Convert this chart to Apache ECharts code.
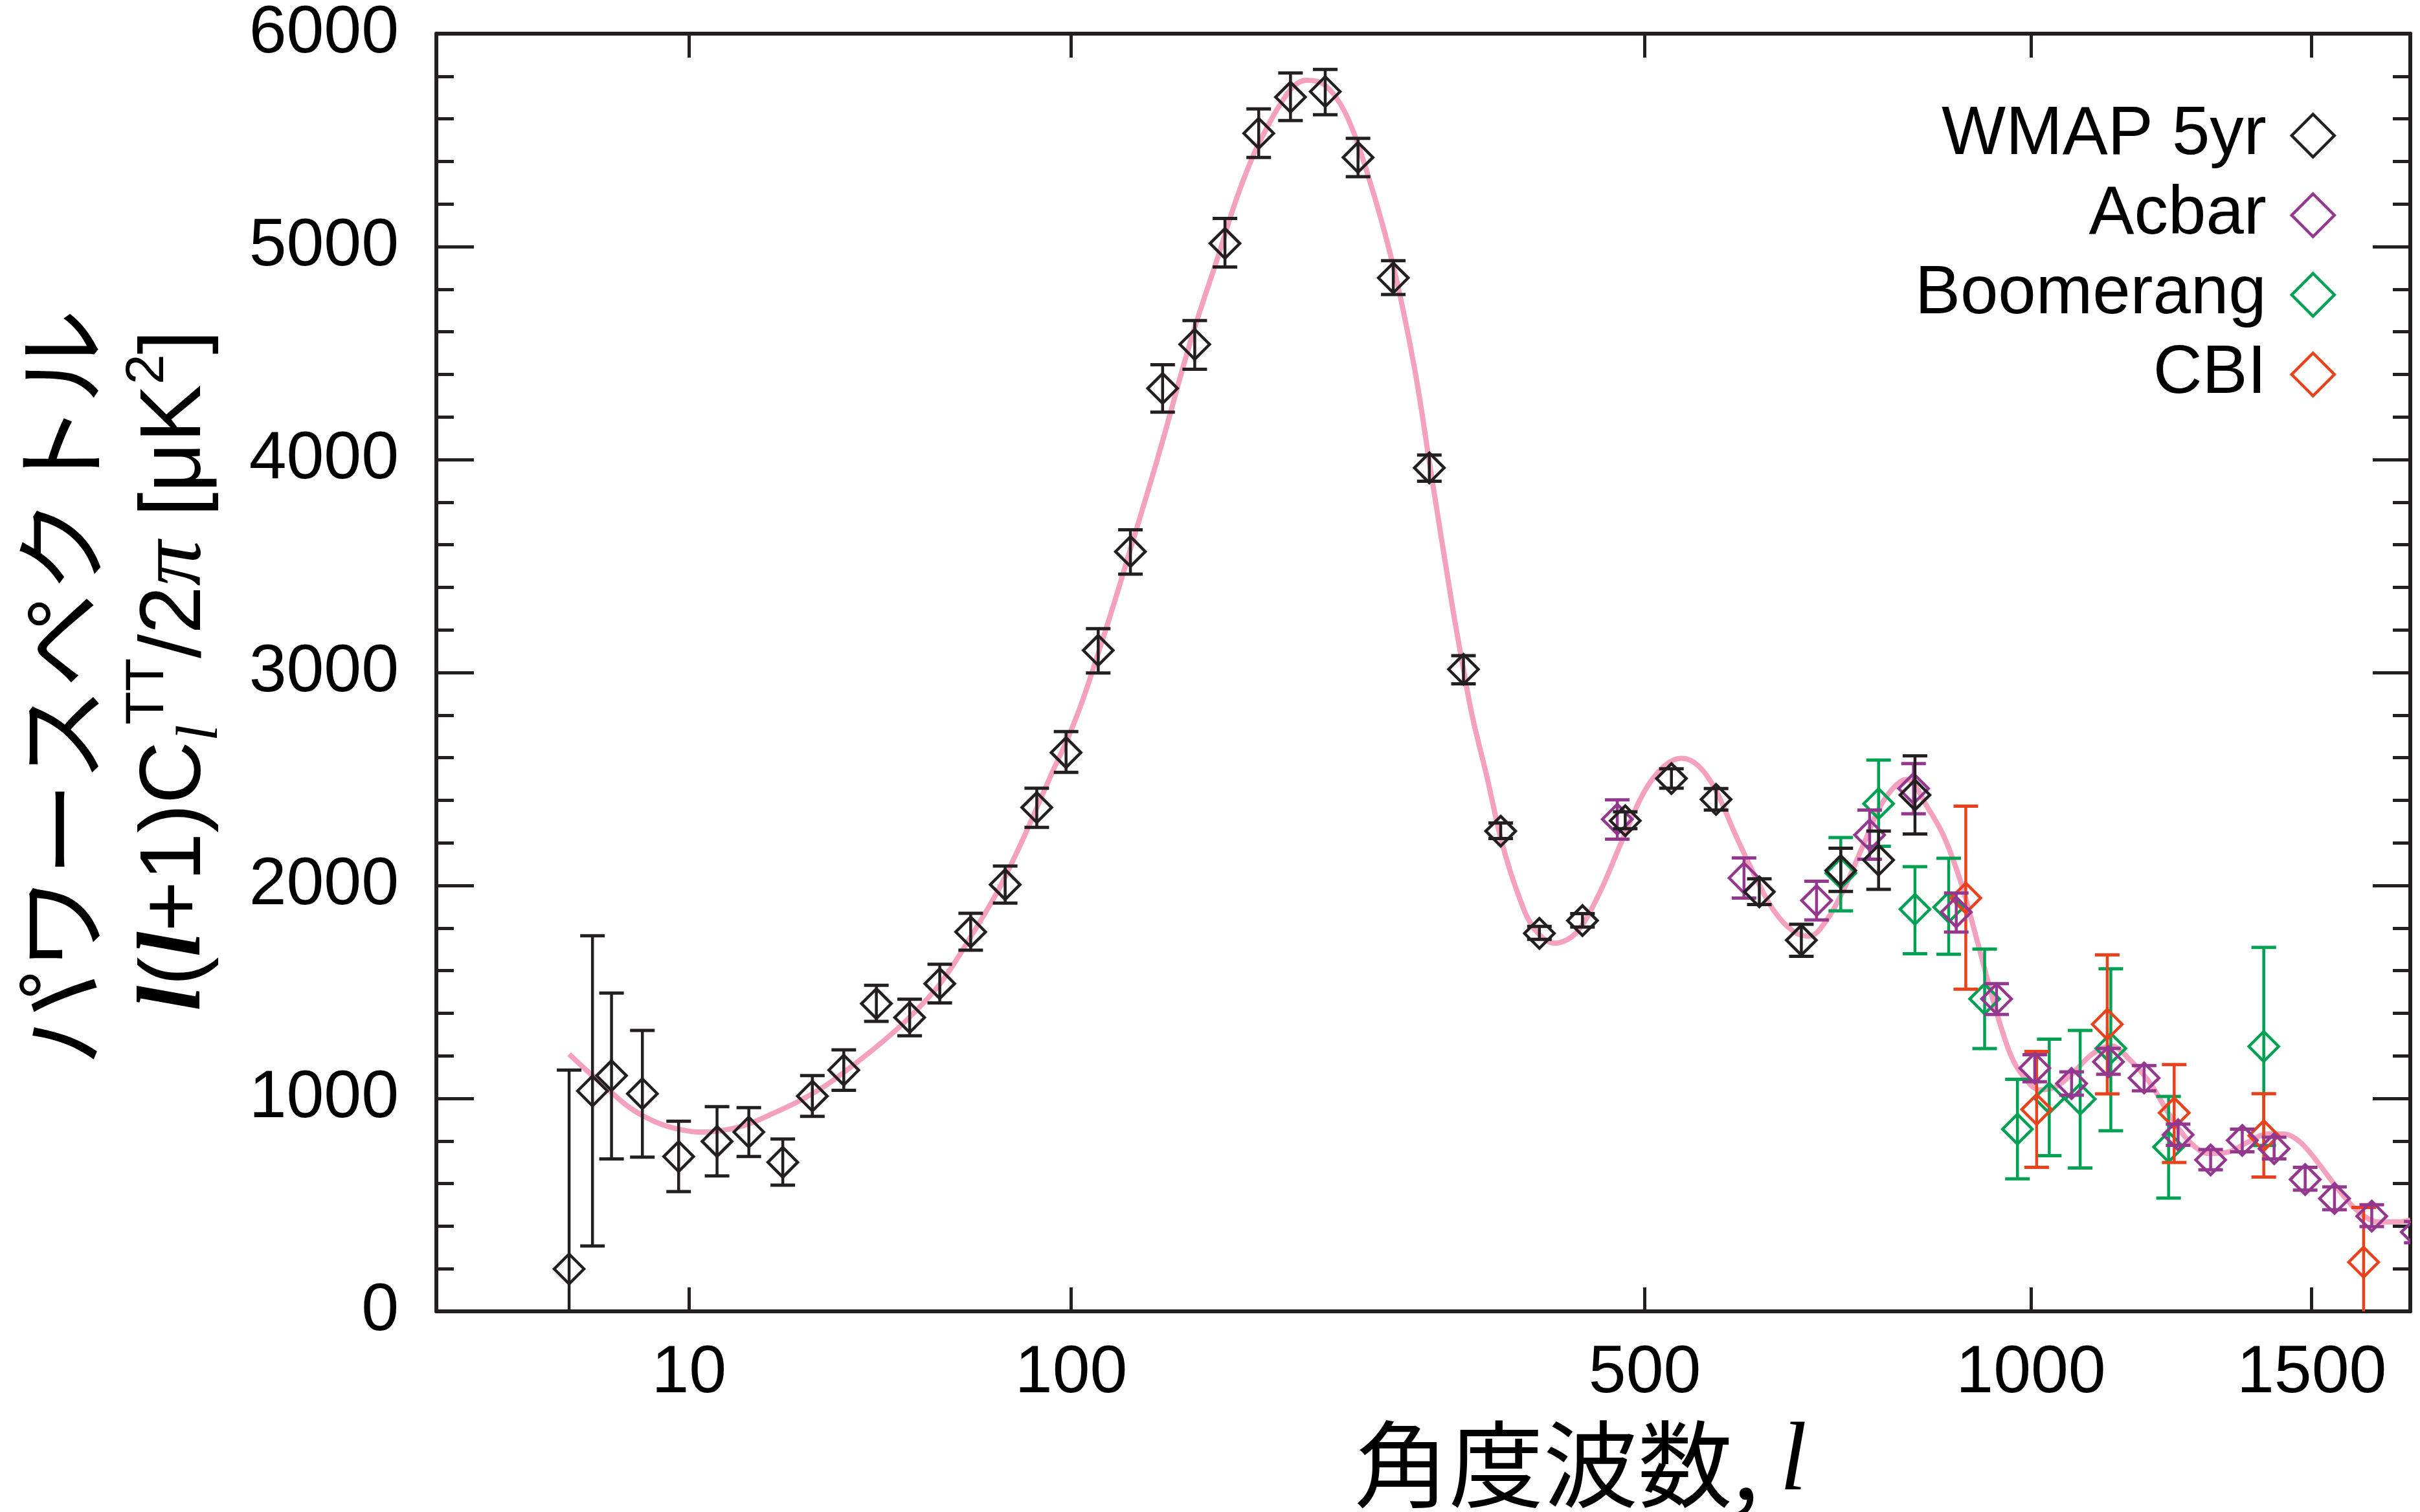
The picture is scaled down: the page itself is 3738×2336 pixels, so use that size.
<!DOCTYPE html>
<html>
<head>
<meta charset="utf-8">
<script src="https://cdn.jsdelivr.net/npm/echarts@6/dist/echarts.min.js"></script>
<style>
html,body{margin:0;padding:0;background:#fff;}
#chart{width:3738px;height:2336px;}
</style>
</head>
<body>
<div id="chart"></div>
<script>
// ---- data ----
const X_TICKS = [10, 100, 500, 1000, 1500];
const Y_MAX = 6000;
const L_MAX = 1705;

const WMAP_L  = [2,3,4,6,9,13,17,22,27,33,40,48,56,65,76,87,98,111,125,140,156,172,191,210,232,254,279,306,333,364,398,438,480,528,577,627,678,728,778,828];
const WMAP_V  = [199,1035,1107,1022,727,798,842,700,1011,1133,1445,1380,1539,1782,2004,2366,2624,3104,3568,4334,4541,5015,5532,5702,5728,5419,4853,3961,3015,2255,1775,1835,2304,2502,2404,1970,1743,2070,2119,2425];
const WMAP_LO = [-735,307,716,724,562,636,727,593,916,1038,1362,1294,1448,1696,1917,2273,2531,2998,3462,4223,4424,4904,5419,5592,5619,5328,4775,3898,2947,2220,1747,1805,2267,2457,2354,1910,1667,1972,1982,2242];
const WMAP_HI = [1133,1764,1495,1319,893,961,957,809,1107,1228,1531,1466,1630,1869,2091,2457,2723,3206,3670,4445,4653,5132,5647,5815,5832,5508,4934,4021,3079,2293,1808,1868,2346,2548,2455,2031,1818,2175,2255,2609];

const ACBAR_L  = [472,609,697,766,826,887,947,1006,1065,1126,1187,1247,1306,1365,1426,1487,1546,1623,1718];
const ACBAR_V  = [2311,2035,1929,2237,2455,1875,1467,1142,1070,1172,1096,829,711,803,764,619,530,447,372];
const ACBAR_LO = [2217,1941,1838,2123,2337,1781,1394,1078,1015,1113,1036,780,665,749,716,569,477,398,322];
const ACBAR_HI = [2402,2129,2020,2354,2572,1964,1539,1205,1125,1235,1154,879,760,856,818,676,584,501,422];

const BOOM_L  = [728,778,828,876,929,979,1029,1079,1130,1230,1406];
const BOOM_V  = [2058,2384,1888,1898,1467,856,1001,997,1235,772,1244];
const BOOM_LO = [1881,2184,1679,1677,1234,622,731,673,848,532,779];
const BOOM_HI = [2225,2589,2088,2128,1701,1090,1278,1319,1609,1009,1709];

const CBI_L  = [901,1009,1124,1240,1406,1606];
const CBI_V  = [1941,948,1348,932,825,231];
const CBI_LO = [1513,676,1021,699,631,-26];
const CBI_HI = [2372,1220,1674,1159,1022,488];

const MODEL_L = [2,2.88,3.81,4.9,6.16,7.59,9.21,11,13,16.4,20.3,24.7,29.6,35,41,47.6,56,65.3,73.9,82,92.9,98.2,104.6,112.7,118.2,125.9,133.9,141.1,148.5,156.2,168.7,178.8,191,210,220,231.5,245,260,279,295,307,324,333,340,352.5,365,379,393,412,432,454,476,499,520,539,558,577,598,621,644,668,688,710,733,759,785,816,848,871,895,919,944,968,989,1014,1040,1066,1099,1131,1164,1198,1233,1268,1303,1340,1376,1413,1445,1477,1516,1556,1596,1637,1679,1705];
const MODEL_V = [1208,1117,1042,968,914,876,853,842,846,873,927,988,1063,1157,1259,1374,1536,1766,1983,2215,2536,2677,2870,3150,3340,3611,3881,4125,4382,4626,4965,5235,5483,5738,5781,5760,5632,5355,4909,4419,3951,3313,3015,2800,2506,2202,1960,1800,1729,1778,1960,2202,2437,2559,2597,2559,2445,2248,2051,1884,1785,1762,1838,1990,2202,2399,2498,2354,2216,2002,1727,1437,1208,1100,1040,1055,1116,1208,1246,1177,1070,917,795,741,749,795,833,833,795,688,566,467,420,420,428];

// ---- styling ----
const BLACK = '#231F20', PURPLE = '#93378F', GREEN = '#00A152', RED = '#E8421C', PINK = '#F4A0BF';
const SANS = '"Liberation Sans", Arial, Helvetica, sans-serif';
const SERIF = '"Liberation Serif", "Times New Roman", serif';
const CJK = '"Noto Sans CJK JP", "Noto Sans CJK SC", sans-serif';
const DIAMOND = 'path://M0,-1L1,0L0,1L-1,0Z';

// x axis uses l^0.4 spacing (as in the reference)
const tf = l => Math.pow(Math.max(l, 0), 0.4);

function pts(L, V, LO, HI) {
  return L.map((l, i) => [tf(l), V[i], LO[i], HI[i]]);
}

function errRender(color) {
  return function (params, api) {
    const x = api.value(0);
    const c = api.coord([x, api.value(1)]);
    const lo = api.coord([x, api.value(2)]);
    const hi = api.coord([x, api.value(3)]);
    const hw = 19, r = 23;
    return {
      type: 'group',
      children: [
        {type: 'line', shape: {x1: c[0], y1: lo[1], x2: c[0], y2: hi[1]}, style: {stroke: color, lineWidth: 4.5}},
        {type: 'line', shape: {x1: c[0] - hw, y1: lo[1], x2: c[0] + hw, y2: lo[1]}, style: {stroke: color, lineWidth: 5}},
        {type: 'line', shape: {x1: c[0] - hw, y1: hi[1], x2: c[0] + hw, y2: hi[1]}, style: {stroke: color, lineWidth: 5}},
        {type: 'polygon', shape: {points: [[c[0], c[1] - r], [c[0] + r, c[1]], [c[0], c[1] + r], [c[0] - r, c[1]]]},
         style: {fill: 'none', stroke: color, lineWidth: 4.5}}
      ]
    };
  };
}

function errSeries(name, color, data, z) {
  return {
    name: name, type: 'custom', data: data, z: z, clip: true,
    encode: {x: 0, y: 1},
    itemStyle: {color: color},
    renderItem: errRender(color)
  };
}

const xTickVals = X_TICKS.map(tf);
const xLabelFmt = v => {
  const i = xTickVals.findIndex(t => Math.abs(t - v) < 1e-6);
  return i >= 0 ? String(X_TICKS[i]) : '';
};

const axisLineStyle = {color: BLACK, width: 6};
const tickStyle = {color: BLACK, width: 5};

function xAxisDef(pos, showLabel) {
  return {
    type: 'value', position: pos, min: 0, max: tf(L_MAX),
    axisLine: {show: true, onZero: false, lineStyle: axisLineStyle},
    axisTick: {show: true, inside: true, length: 37, lineStyle: tickStyle, customValues: xTickVals},
    axisLabel: {show: showLabel, customValues: xTickVals, formatter: xLabelFmt, margin: 44,
                fontFamily: SANS, fontSize: 104, color: '#000'},
    splitLine: {show: false}
  };
}
function yAxisDef(pos, showLabel) {
  return {
    type: 'value', position: pos, min: 0, max: Y_MAX, interval: 1000,
    axisLine: {show: true, onZero: false, lineStyle: axisLineStyle},
    axisTick: {show: true, inside: true, length: 58, lineStyle: tickStyle},
    minorTick: {show: true, splitNumber: 5, length: 27, lineStyle: tickStyle},
    axisLabel: {show: showLabel, margin: 58, fontFamily: SANS, fontSize: 104, color: '#000',
                formatter: v => String(v)},
    splitLine: {show: false}
  };
}

const chart = echarts.init(document.getElementById('chart'), null, {renderer: 'canvas'});
chart.setOption({
  animation: false,
  backgroundColor: '#fff',
  grid: {left: 674, right: 15, top: 48, bottom: 310, containLabel: false},
  xAxis: [xAxisDef('bottom', true), xAxisDef('top', false)],
  yAxis: [yAxisDef('left', true), yAxisDef('right', false)],
  legend: {
    orient: 'vertical', align: 'right', right: 130, top: 148, padding: 0,
    itemWidth: 134, itemHeight: 66, itemGap: 0,
    textStyle: {fontFamily: SANS, fontSize: 105, color: '#000', lineHeight: 123},
    data: [
      {name: 'WMAP 5yr', icon: DIAMOND, itemStyle: {color: 'rgba(0,0,0,0)', borderColor: BLACK, borderWidth: 4.5}},
      {name: 'Acbar', icon: DIAMOND, itemStyle: {color: 'rgba(0,0,0,0)', borderColor: PURPLE, borderWidth: 4.5}},
      {name: 'Boomerang', icon: DIAMOND, itemStyle: {color: 'rgba(0,0,0,0)', borderColor: GREEN, borderWidth: 4.5}},
      {name: 'CBI', icon: DIAMOND, itemStyle: {color: 'rgba(0,0,0,0)', borderColor: RED, borderWidth: 4.5}}
    ]
  },
  graphic: [
    {
      type: 'text', x: 2092, y: 2262, z: 10,
      style: {
        text: '{a|角度波数, }{b|l}',
        align: 'left', verticalAlign: 'middle',
        rich: {
          a: {fontFamily: CJK, fontSize: 146, fill: '#000'},
          b: {fontFamily: SERIF, fontStyle: 'italic', fontSize: 150, fill: '#000'}
        }
      }
    },
    {
      type: 'text', x: 93, y: 1062, rotation: Math.PI / 2, z: 10,
      style: {
        text: 'パワースペクトル', fontFamily: CJK, fontSize: 146, fill: '#000',
        align: 'center', verticalAlign: 'middle'
      }
    },
    {
      type: 'text', x: 272, y: 1036, rotation: Math.PI / 2, z: 10,
      style: {
        text: '{lb|l}{n|(}{lb|l}{n|+1)C}{sub|l}{sup|TT}{n|/2}{pi|π}{n| [μK}{sup|2}{n|]}',
        align: 'center', verticalAlign: 'middle',
        rich: {
          n: {fontFamily: SANS, fontSize: 134, lineHeight: 170, fill: '#000'},
          lb: {fontFamily: SERIF, fontStyle: 'italic', fontWeight: 'bold', fontSize: 140, lineHeight: 170, fill: '#000'},
          pi: {fontFamily: SERIF, fontStyle: 'italic', fontSize: 140, lineHeight: 170, fill: '#000'},
          sub: {fontFamily: SERIF, fontStyle: 'italic', fontSize: 92, verticalAlign: 'bottom', fill: '#000'},
          sup: {fontFamily: SANS, fontSize: 84, verticalAlign: 'top', fill: '#000'}
        }
      }
    }
  ],
  series: [
    {
      name: 'model', type: 'line', z: 1, clip: true,
      data: MODEL_L.map((l, i) => [tf(l), MODEL_V[i]]),
      smooth: 0.35, showSymbol: false, symbol: 'none',
      lineStyle: {color: PINK, width: 8}
    },
    errSeries('Boomerang', GREEN, pts(BOOM_L, BOOM_V, BOOM_LO, BOOM_HI), 2),
    errSeries('CBI', RED, pts(CBI_L, CBI_V, CBI_LO, CBI_HI), 3),
    errSeries('Acbar', PURPLE, pts(ACBAR_L, ACBAR_V, ACBAR_LO, ACBAR_HI), 4),
    errSeries('WMAP 5yr', BLACK, pts(WMAP_L, WMAP_V, WMAP_LO, WMAP_HI), 5)
  ]
});
</script>
</body>
</html>
